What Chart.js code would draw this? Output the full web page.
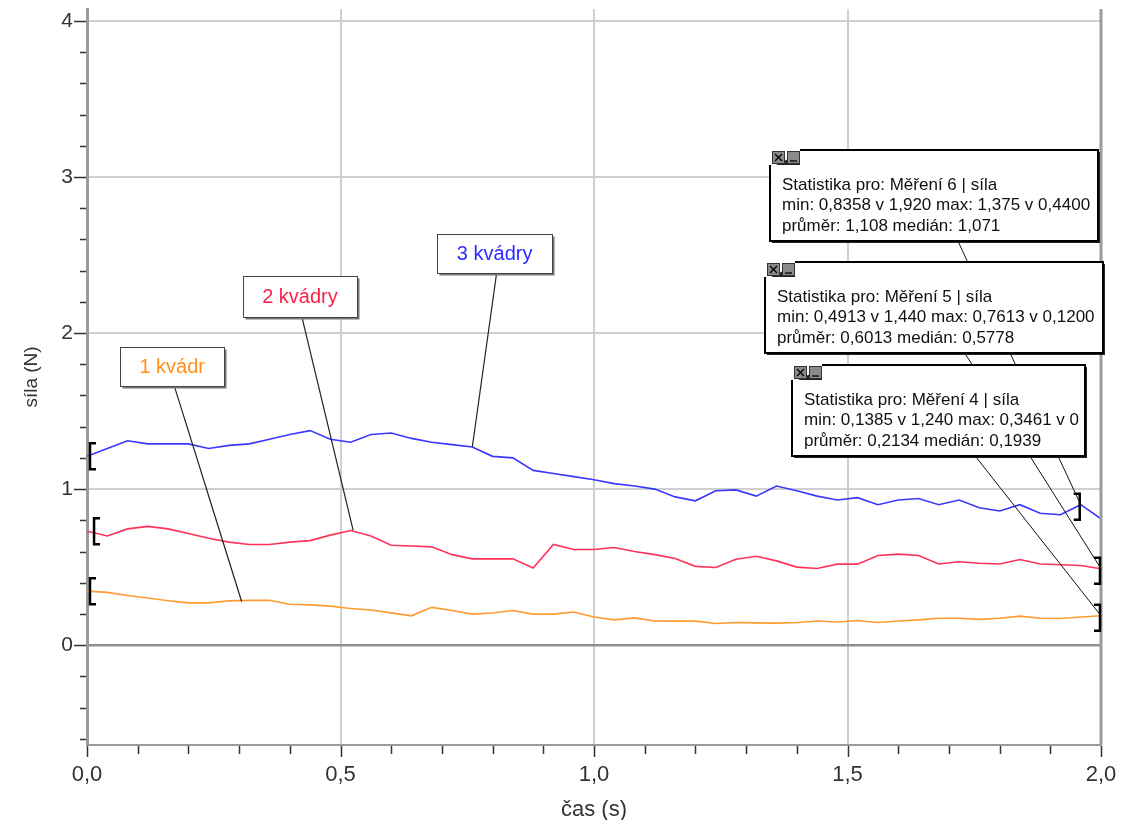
<!DOCTYPE html>
<html>
<head>
<meta charset="utf-8">
<script src="https://cdn.jsdelivr.net/npm/chart.js@4.4.1/dist/chart.umd.min.js"></script>
<style>
  html, body { margin: 0; padding: 0; background: #ffffff; }
  #wrap { width: 1123px; height: 820px; position: relative; }
</style>
</head>
<body>
<div id="wrap"><canvas id="c" width="1123" height="820"></canvas></div>
<script>
// ---- Data ----
const casS = [0.00,0.04,0.08,0.12,0.16,0.20,0.24,0.28,0.32,0.36,0.40,0.44,0.48,0.52,0.56,0.60,0.64,0.68,0.72,0.76,0.80,0.84,0.88,0.92,0.96,1.00,1.04,1.08,1.12,1.16,1.20,1.24,1.28,1.32,1.36,1.40,1.44,1.48,1.52,1.56,1.60,1.64,1.68,1.72,1.76,1.80,1.84,1.88,1.92,1.96,2.00];

// 3 kvádry (Měření 6)
const sila3 = [1.21,1.26,1.31,1.29,1.29,1.29,1.26,1.28,1.29,1.32,1.35,1.375,1.32,1.30,1.35,1.36,1.325,1.30,1.285,1.27,1.21,1.20,1.12,1.10,1.08,1.06,1.035,1.02,1.00,0.95,0.925,0.99,0.995,0.955,1.02,0.99,0.955,0.93,0.945,0.90,0.93,0.94,0.90,0.93,0.88,0.86,0.90,0.845,0.836,0.90,0.81];
// 2 kvádry (Měření 5)
const sila2 = [0.73,0.70,0.745,0.761,0.745,0.715,0.685,0.66,0.645,0.645,0.66,0.67,0.705,0.735,0.70,0.64,0.635,0.63,0.58,0.553,0.553,0.553,0.495,0.645,0.613,0.613,0.626,0.60,0.58,0.555,0.505,0.498,0.55,0.57,0.54,0.50,0.491,0.519,0.519,0.575,0.583,0.575,0.52,0.534,0.525,0.52,0.549,0.52,0.515,0.51,0.49];
// 1 kvádr (Měření 4)
const sila1 = [0.346,0.338,0.318,0.302,0.285,0.271,0.271,0.284,0.287,0.288,0.262,0.258,0.25,0.235,0.225,0.207,0.188,0.242,0.222,0.199,0.206,0.222,0.199,0.199,0.212,0.18,0.162,0.175,0.155,0.154,0.154,0.1385,0.145,0.143,0.141,0.145,0.155,0.148,0.158,0.145,0.155,0.162,0.172,0.172,0.165,0.172,0.186,0.172,0.171,0.18,0.188];

const seriesNames = ['1 kvádr', '2 kvádry', '3 kvádry'];
const xTickValues = [0,0.1,0.2,0.3,0.4,0.5,0.6,0.7,0.8,0.9,1.0,1.1,1.2,1.3,1.4,1.5,1.6,1.7,1.8,1.9,2.0];
const xTickLabels = ['0,0','','','','','0,5','','','','','1,0','','','','','1,5','','','','','2,0'];
const yTickValues = [-0.6,-0.4,-0.2,0,0.2,0.4,0.6,0.8,1,1.2,1.4,1.6,1.8,2,2.2,2.4,2.6,2.8,3,3.2,3.4,3.6,3.8,4];
const yTickLabels = ['','','','0','','','','','1','','','','','2','','','','','3','','','','','4'];
const xTitle = 'čas (s)';
const yTitle = 'síla (N)';

// Annotation texts and anchors (data coordinates)
const labelBoxes = [
  { text: '1 kvádr',  color: '#ff8f1f', cx: 0.168, cy: 1.788, w: 104, h: 39, tx: 0.305, ty: 0.28 },
  { text: '2 kvádry', color: '#ff1f45', cx: 0.420, cy: 2.234, w: 114, h: 41, tx: 0.525, ty: 0.735 },
  { text: '3 kvádry', color: '#2b2bff', cx: 0.804, cy: 2.510, w: 115, h: 39, tx: 0.760, ty: 1.27 }
];
const statsLines6 = ['Statistika pro: Měření 6 | síla', 'min: 0,8358 v 1,920 max: 1,375 v 0,4400', 'průměr: 1,108 medián: 1,071'];
const statsLines5 = ['Statistika pro: Měření 5 | síla', 'min: 0,4913 v 1,440 max: 0,7613 v 0,1200', 'průměr: 0,6013 medián: 0,5778'];
const statsLines4 = ['Statistika pro: Měření 4 | síla', 'min: 0,1385 v 1,240 max: 0,3461 v 0', 'průměr: 0,2134 medián: 0,1939'];
const statsBoxes = [
  { lines: statsLines6, x: 1.347, y: 3.173, w: 328, lead: 188, tx: 1.96, ty: 0.90 },
  { lines: statsLines5, x: 1.337, y: 2.455, w: 338, lead: 200, tx: 2.00, ty: 0.49 },
  { lines: statsLines4, x: 1.391, y: 1.795, w: 293, lead: 183, tx: 2.00, ty: 0.188 }
];
// Range brackets: [start t, start value, end t, end value]
const brackets = [
  [0.000, 1.21, 1.96, 0.90],
  [0.008, 0.73, 2.00, 0.49],
  [0.000, 0.346, 2.00, 0.188]
];

const FONT = '"Liberation Sans", Arial, sans-serif';
const toXY = arr => casS.map((t, i) => ({ x: t, y: arr[i] }));

const annotPlugin = {
  id: 'annot',
  afterDatasetsDraw(chart) {
    const { ctx, chartArea: ca, scales: { x, y } } = chart;
    const X = v => x.getPixelForValue(v);
    const Y = v => y.getPixelForValue(v);
    ctx.save();

    // right border
    ctx.strokeStyle = '#9a9a9a';
    ctx.lineWidth = 3;
    ctx.beginPath(); ctx.moveTo(ca.right, ca.top); ctx.lineTo(ca.right, ca.bottom); ctx.stroke();

    // tick marks
    ctx.strokeStyle = '#333';
    ctx.lineWidth = 1.5;
    xTickValues.forEach((v, i) => {
      const px = Math.round(X(v)) + 0.5;
      const len = xTickLabels[i] ? 12 : 9;
      ctx.beginPath(); ctx.moveTo(px, ca.bottom + 1); ctx.lineTo(px, ca.bottom + len); ctx.stroke();
    });
    yTickValues.forEach((v, i) => {
      const py = Math.round(Y(v)) + 0.5;
      const len = yTickLabels[i] ? 13 : 7;
      ctx.beginPath(); ctx.moveTo(ca.left - 1, py); ctx.lineTo(ca.left - len, py); ctx.stroke();
    });

    // range brackets
    ctx.strokeStyle = '#000';
    ctx.lineWidth = 2.5;
    brackets.forEach(b => {
      const x0 = X(b[0]) + 3, y0 = Y(b[1]);
      ctx.beginPath();
      ctx.moveTo(x0 + 6, y0 - 13); ctx.lineTo(x0, y0 - 13); ctx.lineTo(x0, y0 + 13); ctx.lineTo(x0 + 6, y0 + 13);
      ctx.stroke();
      const x1 = X(b[2]) - 1, y1 = Y(b[3]) + 2;
      ctx.beginPath();
      ctx.moveTo(x1 - 6, y1 - 13); ctx.lineTo(x1, y1 - 13); ctx.lineTo(x1, y1 + 13); ctx.lineTo(x1 - 6, y1 + 13);
      ctx.stroke();
    });

    // label boxes with leader lines
    labelBoxes.forEach(lb => {
      const cx = X(lb.cx), cy = Y(lb.cy);
      ctx.strokeStyle = '#222';
      ctx.lineWidth = 1.2;
      ctx.beginPath(); ctx.moveTo(cx + 2, cy + lb.h / 2); ctx.lineTo(X(lb.tx), Y(lb.ty)); ctx.stroke();
      const l = Math.round(cx - lb.w / 2) + 0.5, t = Math.round(cy - lb.h / 2) + 0.5;
      ctx.fillStyle = '#777';
      ctx.fillRect(l + 2, t + 2, lb.w, lb.h);
      ctx.fillStyle = '#fff';
      ctx.fillRect(l, t, lb.w, lb.h);
      ctx.strokeStyle = '#444';
      ctx.lineWidth = 1;
      ctx.strokeRect(l, t, lb.w, lb.h);
      ctx.fillStyle = lb.color;
      ctx.font = '20px ' + FONT;
      ctx.textAlign = 'center';
      ctx.textBaseline = 'middle';
      ctx.fillText(lb.text, cx, cy + 1);
    });

    // stats leader lines (beneath boxes)
    ctx.strokeStyle = '#111';
    ctx.lineWidth = 1;
    statsBoxes.forEach(sb => {
      const l = X(sb.x), t = Y(sb.y);
      ctx.beginPath(); ctx.moveTo(l + sb.lead, t + 91); ctx.lineTo(X(sb.tx), Y(sb.ty)); ctx.stroke();
    });

    // stats boxes
    statsBoxes.forEach(sb => {
      const l = Math.round(X(sb.x)), t = Math.round(Y(sb.y)), w = sb.w, h = 91;
      // shadow
      ctx.fillStyle = '#222';
      ctx.beginPath();
      ctx.moveTo(l + 32, t + 2); ctx.lineTo(l + w + 2, t + 2); ctx.lineTo(l + w + 2, t + h + 2);
      ctx.lineTo(l + 2, t + h + 2); ctx.lineTo(l + 2, t + 17); ctx.closePath(); ctx.fill();
      // body
      ctx.fillStyle = '#fff';
      ctx.beginPath();
      ctx.moveTo(l + 30, t); ctx.lineTo(l + w, t); ctx.lineTo(l + w, t + h);
      ctx.lineTo(l, t + h); ctx.lineTo(l, t + 15); ctx.lineTo(l + 30, t + 15); ctx.closePath(); ctx.fill();
      ctx.strokeStyle = '#000';
      ctx.lineWidth = 2;
      ctx.beginPath();
      ctx.moveTo(l + 30, t); ctx.lineTo(l + w, t); ctx.lineTo(l + w, t + h);
      ctx.lineTo(l, t + h); ctx.lineTo(l, t + 15);
      ctx.stroke();
      // icons
      [0, 15].forEach((dx, k) => {
        const ix = l + 2 + dx, iy = t + 1;
        ctx.fillStyle = '#8a8a8a';
        ctx.fillRect(ix, iy, 13, 13);
        ctx.strokeStyle = '#333';
        ctx.lineWidth = 1;
        ctx.strokeRect(ix + 0.5, iy + 0.5, 12, 12);
        ctx.strokeStyle = '#000';
        ctx.lineWidth = 1.3;
        ctx.beginPath();
        if (k === 0) {
          ctx.moveTo(ix + 3, iy + 3); ctx.lineTo(ix + 10, iy + 10);
          ctx.moveTo(ix + 10, iy + 3); ctx.lineTo(ix + 3, iy + 10);
        } else {
          ctx.moveTo(ix + 3, iy + 10); ctx.lineTo(ix + 10, iy + 10);
        }
        ctx.stroke();
      });
      // text
      ctx.fillStyle = '#111';
      ctx.font = '17px ' + FONT;
      ctx.textAlign = 'left';
      ctx.textBaseline = 'middle';
      sb.lines.forEach((ln, i) => ctx.fillText(ln, l + 12, t + 35 + i * 20.5));
    });

    ctx.restore();
  }
};

new Chart(document.getElementById('c'), {
  type: 'line',
  data: {
    datasets: [
      { label: seriesNames[0], data: toXY(sila1), borderColor: '#ff9a30', borderWidth: 1.6 },
      { label: seriesNames[1], data: toXY(sila2), borderColor: '#ff3358', borderWidth: 1.6 },
      { label: seriesNames[2], data: toXY(sila3), borderColor: '#3838ff', borderWidth: 1.6 }
    ]
  },
  options: {
    responsive: false,
    animation: false,
    events: [],
    layout: { padding: { top: 9, right: 22, left: 0, bottom: 0 } },
    elements: { point: { radius: 0 }, line: { tension: 0, fill: false } },
    plugins: { legend: { display: false }, tooltip: { enabled: false } },
    scales: {
      x: {
        type: 'linear', min: 0, max: 2,
        afterFit: s => { s.height = 75; s.paddingLeft = 0; s.paddingRight = 0; },
        afterBuildTicks: s => { s.ticks = xTickValues.map(v => ({ value: v })); },
        grid: {
          drawTicks: false,
          color: c => {
            const v = c.tick ? c.tick.value : 0;
            const m = Math.abs(v * 2 - Math.round(v * 2)) < 1e-6;
            return (m && v > 0.01 && v < 1.99) ? '#cfcfcf' : 'transparent';
          },
          lineWidth: 2
        },
        border: { display: true, color: '#9a9a9a', width: 2 },
        ticks: {
          autoSkip: false, maxRotation: 0, padding: 17,
          color: '#333',
          font: { family: FONT, size: 22 },
          callback: (v, i) => xTickLabels[i]
        },
        title: { display: true, text: xTitle, color: '#333', font: { family: FONT, size: 22 }, padding: { top: 0, bottom: -3 } }
      },
      y: {
        type: 'linear', min: -0.64, max: 4.077,
        afterFit: s => { s.width = 87; s.paddingTop = 0; s.paddingBottom = 0; },
        afterBuildTicks: s => { s.ticks = yTickValues.map(v => ({ value: v })); },
        grid: {
          drawTicks: false,
          color: c => {
            const v = c.tick ? c.tick.value : 1;
            if (Math.abs(v) < 1e-6) return '#8f8f8f';
            return Math.abs(v - Math.round(v)) < 1e-6 ? '#cfcfcf' : 'transparent';
          },
          lineWidth: c => (c.tick && Math.abs(c.tick.value) < 1e-6) ? 2.5 : 2
        },
        border: { display: true, color: '#9a9a9a', width: 3 },
        ticks: {
          autoSkip: false, padding: 14,
          color: '#333',
          font: { family: FONT, size: 21 },
          callback: (v, i) => yTickLabels[i]
        },
        title: { display: true, text: yTitle, color: '#333', font: { family: FONT, size: 19 }, padding: { top: 20, bottom: 0 } }
      }
    }
  },
  plugins: [annotPlugin]
});
</script>
</body>
</html>
